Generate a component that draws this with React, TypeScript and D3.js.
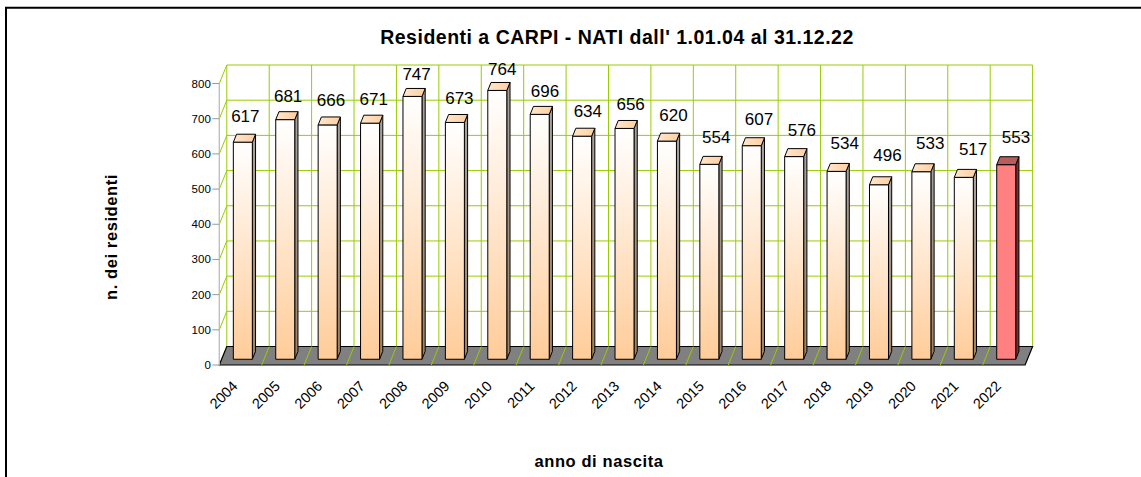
import React from 'react';
import * as d3 from 'd3';

const years = ['2004','2005','2006','2007','2008','2009','2010','2011','2012','2013','2014','2015','2016','2017','2018','2019','2020','2021','2022'];
const births = [617,681,666,671,747,673,764,696,634,656,620,554,607,576,534,496,533,517,553];
const yTicks = [0,100,200,300,400,500,600,700,800];
const highlightYear = '2022';
const title = "Residenti a CARPI - NATI dall' 1.01.04 al 31.12.22";
const yTitle = 'n. dei residenti';
const xTitle = 'anno di nascita';

const W = 1141, H = 477;
const X0 = 219.3, X1 = 1025.1;
const Y0 = 365, YTOP = 83.5;
const DX = 7.5, DY = -18.5;
const BAR_D0 = 0.31, BAR_D1 = 0.74;
const BAR_W = 19;
const GREEN = '#99CC00';
const FONT = 'Liberation Sans, Arial, Helvetica, sans-serif';

export default function App() {
  const x = d3.scaleBand<string>().domain(years).range([X0, X1]);
  const y = d3.scaleLinear().domain([0, 800]).range([Y0, YTOP]);
  const labelY = d3.scaleLinear().domain([0, 800]).range([322, 63]);
  const bw = x.bandwidth();
  const P = (px: number, py: number, d: number): [number, number] => [px + DX * d, py + DY * d];
  const pts = (arr: [number, number][]) => arr.map(p => p.join(',')).join(' ');

  const backLines: JSX.Element[] = [];
  yTicks.forEach((t, i) => {
    const a = P(X0, y(t), 1), b = P(X1, y(t), 1), c = P(X0, y(t), 0);
    backLines.push(<line key={'h' + i} x1={a[0]} y1={a[1]} x2={b[0]} y2={b[1]} stroke={GREEN} strokeWidth={1} />);
    backLines.push(<line key={'l' + i} x1={c[0]} y1={c[1]} x2={a[0]} y2={a[1]} stroke={GREEN} strokeWidth={1} />);
  });
  for (let k = 0; k <= years.length; k++) {
    const xx = X0 + k * bw;
    const a = P(xx, y(0), 1), b = P(xx, y(800), 1);
    backLines.push(<line key={'v' + k} x1={a[0]} y1={a[1]} x2={b[0]} y2={b[1]} stroke={GREEN} strokeWidth={1} />);
  }

  const floor = pts([P(X0, Y0, 0), P(X1, Y0, 0), P(X1, Y0, 1), P(X0, Y0, 1)]);
  const floorLines: JSX.Element[] = [];
  for (let k = 1; k < years.length; k++) {
    const xx = X0 + k * bw;
    const a = P(xx, Y0, 1), b = P(xx, Y0, 0);
    floorLines.push(<line key={'f' + k} x1={a[0]} y1={a[1]} x2={b[0]} y2={b[1]} stroke={GREEN} strokeWidth={1} />);
  }

  const bars = years.map((yr, i) => {
    const v = births[i];
    const hl = yr === highlightYear;
    const xl = (x(yr) as number) + (bw - BAR_W) / 2;
    const xr = xl + BAR_W;
    const fTL = P(xl, y(v), BAR_D0), fTR = P(xr, y(v), BAR_D0);
    const fBL = P(xl, y(0), BAR_D0), fBR = P(xr, y(0), BAR_D0);
    const bTL = P(xl, y(v), BAR_D1), bTR = P(xr, y(v), BAR_D1), bBR = P(xr, y(0), BAR_D1);
    const front = pts([fTL, fTR, fBR, fBL]);
    const side = pts([fTR, bTR, bBR, fBR]);
    const top = pts([fTL, bTL, bTR, fTR]);
    const cx = (xl + xr) / 2 + DX * BAR_D0 + 2.5 + 0.4 * i;
    return (
      <g key={yr}>
        <polygon points={side} fill={hl ? '#7a3030' : 'url(#sideGrad)'} stroke="#000" strokeWidth={1} strokeLinejoin="round" />
        <polygon points={front} fill={hl ? '#FF8080' : 'url(#frontGrad)'} stroke="#000" strokeWidth={1} strokeLinejoin="round" />
        <polygon points={top} fill={hl ? '#B85C5C' : 'url(#topGrad)'} stroke="#000" strokeWidth={1} strokeLinejoin="round" />
        <text x={cx} y={labelY(v)} textAnchor="middle" fontSize={17} fontFamily={FONT} fill="#000">{v}</text>
      </g>
    );
  });

  return (
    <svg width={W} height={H} style={{ position: 'absolute', left: 0, top: 0, background: '#fff' }}>
      <defs>
        <linearGradient id="frontGrad" x1="0" y1="0" x2="0" y2="1">
          <stop offset="0" stopColor="#FFFFFF" />
          <stop offset="1" stopColor="#FFCC99" />
        </linearGradient>
        <linearGradient id="sideGrad" x1="0" y1="0" x2="0" y2="1">
          <stop offset="0" stopColor="#A8A29C" />
          <stop offset="1" stopColor="#A08264" />
        </linearGradient>
        <linearGradient id="topGrad" x1="0" y1="0" x2="1" y2="0">
          <stop offset="0" stopColor="#FFE6CC" />
          <stop offset="1" stopColor="#FFCFA0" />
        </linearGradient>
      </defs>
      <rect x={0} y={0} width={W} height={H} fill="#fff" />
      <path d={`M6,${H} V7.7 H${W}`} fill="none" stroke="#000" strokeWidth={2} />
      <text x={617} y={44} textAnchor="middle" fontSize={19.5} fontWeight="bold" letterSpacing={0.5} fontFamily={FONT}>{title}</text>
      {backLines}
      <polygon points={floor} fill="#808080" stroke="#000" strokeWidth={1.2} />
      {floorLines}
      {bars}
      <line x1={X0} y1={y(0)} x2={X0} y2={y(800)} stroke="#BBBBBB" strokeWidth={1.3} />
      {yTicks.map(t => (
        <g key={t}>
          <line x1={X0 - 7} y1={y(t)} x2={X0} y2={y(t)} stroke="#999" strokeWidth={1} />
          <text x={X0 - 8.5} y={y(t)} dy="0.35em" textAnchor="end" fontSize={11.5} fontFamily={FONT}>{t}</text>
        </g>
      ))}
      {years.map(yr => {
        const cx = (x(yr) as number) + bw / 2 - 2;
        return (
          <text key={yr} transform={`translate(${cx},387) rotate(-45)`} textAnchor="end" fontSize={14.5} fontFamily={FONT}>{yr}</text>
        );
      })}
      <text transform="translate(117,237) rotate(-90)" textAnchor="middle" fontSize={16.5} fontWeight="bold" letterSpacing={0.6} fontFamily={FONT}>{yTitle}</text>
      <text x={599} y={467} textAnchor="middle" fontSize={16.5} fontWeight="bold" letterSpacing={0.6} fontFamily={FONT}>{xTitle}</text>
    </svg>
  );
}
